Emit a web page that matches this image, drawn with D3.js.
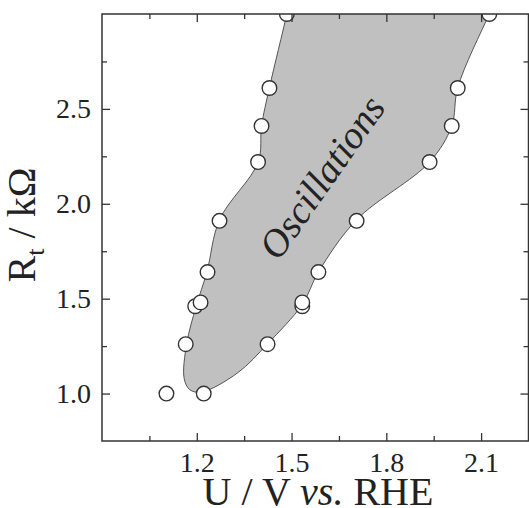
<!DOCTYPE html>
<html>
<head>
<meta charset="utf-8">
<script src="https://cdnjs.cloudflare.com/ajax/libs/d3/7.8.5/d3.min.js"></script>
<style>
  body { margin: 0; background: #fff; }
  svg { display: block; }
  text { font-family: "Liberation Serif", "Times New Roman", serif; fill: #222; }
</style>
</head>
<body>
<svg id="svgcanvas" width="529" height="508"></svg>
<script>

/****************************************************************************
 *  data
 ****************************************************************************/
// onset of oscillations (left edge of the region)
var onsetU = [1.104, 1.165, 1.195, 1.212, 1.234, 1.272, 1.394, 1.405, 1.430, 1.485];
var onsetR = [1.00, 1.26, 1.46, 1.48, 1.64, 1.91, 2.22, 2.41, 2.61, 3.00];
// end of oscillations (right edge of the region)
var offsetU = [1.222, 1.424, 1.534, 1.534, 1.585, 1.706, 1.937, 2.007, 2.026, 2.126];
var offsetR = [1.00, 1.26, 1.46, 1.48, 1.64, 1.91, 2.22, 2.41, 2.61, 3.00];

// outline of the shaded "Oscillations" region, walked round clockwise
var regionU = [1.215, 1.178, 1.160, 1.168, 1.198, 1.232, 1.272, 1.394, 1.405, 1.430, 1.485, 1.500,
               2.160, 2.126, 2.026, 2.007, 1.937, 1.706, 1.585, 1.534, 1.424, 1.330];
var regionR = [1.008, 1.020, 1.080, 1.262, 1.46, 1.64, 1.916, 2.219, 2.41, 2.612, 3.00, 3.12,
               3.12, 3.00, 2.612, 2.41, 2.22, 1.916, 1.64, 1.47, 1.262, 1.11];

// axes
var xDomain = [0.9, 2.25];
var yDomain = [0.75, 3.0];
var xMajorTicks = [1.2, 1.5, 1.8, 2.1];
var xMinorTicks = [1.05, 1.35, 1.65, 1.95];
var yMajorTicks = [1.0, 1.5, 2.0, 2.5];
var yMinorTicks = [1.25, 1.75, 2.25, 2.75];


/****************************************************************************
 *  layout
 ****************************************************************************/
var plotL = 102, plotT = 14, plotR = 528.5, plotB = 441;
var svg = d3.select("#svgcanvas");

var x = d3.scaleLinear().domain(xDomain).range([plotL, plotR]);
var y = d3.scaleLinear().domain(yDomain).range([plotB, plotT]);

svg.append('clipPath')
    .attr('id', 'plotclip')
  .append('rect')
    .attr('x', plotL)
    .attr('y', plotT)
    .attr('width', plotR - plotL)
    .attr('height', plotB - plotT);

var plot = svg.append('g').attr('clip-path', 'url(#plotclip)');


/****************************************************************************
 *  shaded region
 ****************************************************************************/
var region = regionU.map(function(u, i) { return [u, regionR[i]]; });

var outline = d3.line()
    .x(function(d) { return x(d[0]); })
    .y(function(d) { return y(d[1]); })
    .curve(d3.curveCatmullRomClosed.alpha(0.5));

plot.append('path')
    .datum(region)
    .attr('d', outline)
    .attr('fill', '#c0c0c0')
    .attr('stroke', '#555')
    .attr('stroke-width', 1);

// label inside the region
svg.append('text')
    .attr('transform', 'translate(' + x(1.63) + ',' + y(2.10) + ') rotate(-55)')
    .attr('text-anchor', 'middle')
    .attr('font-size', 39)
    .attr('font-style', 'italic')
    .text('Oscillations');


/****************************************************************************
 *  measured points
 ****************************************************************************/
var points = onsetU.map(function(u, i) { return { u: u, r: onsetR[i] }; })
  .concat(offsetU.map(function(u, i) { return { u: u, r: offsetR[i] }; }));

plot.selectAll('circle')
    .data(points)
  .enter()
  .append('circle')
    .attr('cx', function(d) { return x(d.u); })
    .attr('cy', function(d) { return y(d.r); })
    .attr('r', 7.3)
    .attr('fill', '#fff')
    .attr('stroke', '#333')
    .attr('stroke-width', 1.4);


/****************************************************************************
 *  axes: inward ticks on all four sides, labels bottom and left
 ****************************************************************************/
function axis(gen, ticks, size, labels, tx, ty) {
  var g = svg.append('g')
      .attr('transform', 'translate(' + tx + ',' + ty + ')')
      .call(gen.tickValues(ticks).tickSize(-size).tickPadding(labels ? 11 : 0)
               .tickFormat(labels ? d3.format('.1f') : ''));
  g.select('.domain').remove();
  g.selectAll('line').attr('stroke', '#333').attr('stroke-width', 1.3);
  g.selectAll('text')
      .attr('font-size', 28)
      .attr('font-family', '"Liberation Serif", serif')
      .attr('fill', '#222');
  return g;
}

axis(d3.axisBottom(x), xMajorTicks, 8, true, 0, plotB);
axis(d3.axisBottom(x), xMinorTicks, 5, false, 0, plotB);
axis(d3.axisTop(x), xMajorTicks, 8, false, 0, plotT);
axis(d3.axisTop(x), xMinorTicks, 5, false, 0, plotT);
axis(d3.axisLeft(y), yMajorTicks, 8, true, plotL, 0);
axis(d3.axisLeft(y), yMinorTicks, 5, false, plotL, 0);
axis(d3.axisRight(y), yMajorTicks, 8, false, plotR, 0);
axis(d3.axisRight(y), yMinorTicks, 5, false, plotR, 0);

// frame
svg.append('rect')
    .attr('x', plotL)
    .attr('y', plotT)
    .attr('width', plotR - plotL)
    .attr('height', plotB - plotT)
    .attr('fill', 'none')
    .attr('stroke', '#333')
    .attr('stroke-width', 1.5);

// axis titles
var xt = svg.append('text')
    .attr('x', 318)
    .attr('y', 505)
    .attr('text-anchor', 'middle')
    .attr('font-size', 40);
xt.append('tspan').text('U / V ');
xt.append('tspan').attr('font-style', 'italic').text('vs.');
xt.append('tspan').text(' RHE');

var yt = svg.append('text')
    .attr('transform', 'translate(35,225) rotate(-90)')
    .attr('text-anchor', 'middle')
    .attr('font-size', 40);
yt.append('tspan').text('R');
yt.append('tspan').attr('font-size', 26).attr('dy', 9).text('t');
yt.append('tspan').attr('dy', -9).text(' / k\u03A9');

</script>
</body>
</html>
